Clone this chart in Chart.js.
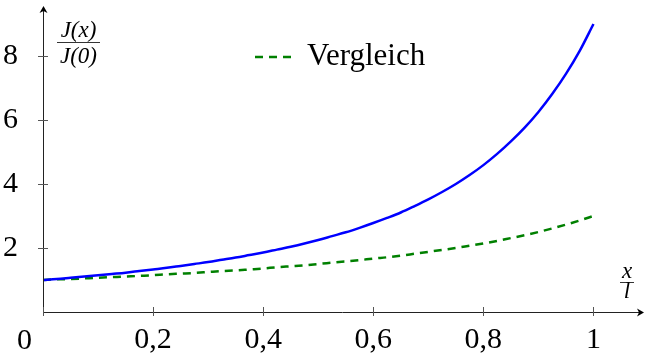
<!DOCTYPE html>
<html><head><meta charset="utf-8">
<script src="https://cdn.jsdelivr.net/npm/chart.js@4"></script>
<style>html,body{margin:0;padding:0;background:#fff}#wrap{width:645px;height:356px;position:relative}</style>
</head><body><div id="wrap"><canvas id="c" width="645" height="356"></canvas></div>
<script>
const xValues = [0,0.025,0.05,0.075,0.1,0.125,0.15,0.175,0.2,0.225,0.25,0.275,0.3,0.325,0.35,0.375,0.4,0.425,0.45,0.475,0.5,0.525,0.55,0.575,0.6,0.625,0.65,0.675,0.7,0.725,0.75,0.775,0.8,0.825,0.85,0.875,0.9,0.925,0.95,0.975,1];
const currentRatio = [1.00,1.03,1.07,1.11,1.15,1.19,1.23,1.28,1.33,1.38,1.44,1.50,1.56,1.63,1.70,1.78,1.86,1.95,2.04,2.14,2.25,2.37,2.49,2.63,2.78,2.94,3.11,3.31,3.52,3.75,4.00,4.28,4.59,4.94,5.33,5.76,6.25,6.81,7.44,8.16,9.00];
const comparison = [1.00,1.02,1.03,1.05,1.07,1.09,1.11,1.13,1.15,1.18,1.20,1.22,1.25,1.28,1.30,1.33,1.36,1.40,1.43,1.46,1.50,1.54,1.58,1.62,1.67,1.71,1.76,1.82,1.88,1.94,2.00,2.07,2.14,2.22,2.31,2.40,2.50,2.61,2.73,2.86,3.00];
const xTicks = [0,0.2,0.4,0.6,0.8,1];
const yTicks = [2,4,6,8];
const legendLabel = 'Vergleich';

const SERIF = '"Liberation Serif","DejaVu Serif",serif';

const overlay = {
  id:'overlay',
  afterDraw(chart){
    const ctx = chart.ctx, xs = chart.scales.x, ys = chart.scales.y;
    const x0 = xs.getPixelForValue(0), y0 = ys.getPixelForValue(0);
    const ca = chart.chartArea;
    ctx.save();
    ctx.strokeStyle = '#222'; ctx.fillStyle='#000'; ctx.lineWidth = 1;
    ctx.beginPath();
    ctx.moveTo(ca.left, y0+0.5); ctx.lineTo(ca.right-1, y0+0.5);
    ctx.moveTo(x0+0.5, y0+0.5); ctx.lineTo(x0+0.5, ca.top+1);
    ctx.stroke();
    ctx.beginPath();
    ctx.moveTo(ca.right+1, y0+0.5); ctx.lineTo(ca.right-6, y0-3.5); ctx.lineTo(ca.right-4, y0+0.5); ctx.lineTo(ca.right-6, y0+4.5); ctx.closePath(); ctx.fill();
    ctx.beginPath();
    ctx.moveTo(x0+0.5, ca.top-2); ctx.lineTo(x0-3.5, ca.top+5); ctx.lineTo(x0+0.5, ca.top+3); ctx.lineTo(x0+4.5, ca.top+5); ctx.closePath(); ctx.fill();
    ctx.strokeStyle = '#555';
    ctx.beginPath();
    xTicks.forEach(v=>{ const p=Math.round(xs.getPixelForValue(v))+0.5; ctx.moveTo(p,y0-5); ctx.lineTo(p,y0+4); });
    yTicks.forEach(v=>{ const p=Math.round(ys.getPixelForValue(v))+0.5; ctx.moveTo(x0-5,p); ctx.lineTo(x0+5,p); });
    ctx.stroke();
    ctx.fillStyle='#000';
    ctx.font = '30px '+SERIF; ctx.textAlign='center'; ctx.textBaseline='alphabetic';
    ctx.fillText('0', 24.5, 349);
    ctx.font = 'italic 23px '+SERIF;
    ctx.fillText('J(x)', 78.5, 37);
    ctx.fillText('J(0)', 78.5, 63);
    ctx.lineWidth=0.8; ctx.strokeStyle='#000';
    ctx.beginPath(); ctx.moveTo(57,42.5); ctx.lineTo(100,42.5); ctx.stroke();
    ctx.fillText('x', 627, 278);
    ctx.fillText('l', 627, 298);
    ctx.beginPath(); ctx.moveTo(620,282.5); ctx.lineTo(634,282.5); ctx.stroke();
    ctx.strokeStyle='#008000'; ctx.lineWidth=2.5; ctx.setLineDash([8,6]);
    ctx.beginPath(); ctx.moveTo(255,57); ctx.lineTo(296,57); ctx.stroke();
    ctx.setLineDash([]);
    ctx.font = '31px '+SERIF; ctx.textAlign='left'; ctx.textBaseline='middle';
    ctx.fillText(legendLabel, 307, 57);
    ctx.restore();
  }
};

new Chart(document.getElementById('c'), {
  type:'line',
  data:{
    labels:xValues,
    datasets:[
      {label:'J(x)/J(0)', data:xValues.map((x,i)=>({x, y:currentRatio[i]})), borderColor:'#0000ff', borderWidth:2.5, pointRadius:0, cubicInterpolationMode:'monotone', fill:false},
      {label:legendLabel, data:xValues.map((x,i)=>({x, y:comparison[i]})), borderColor:'#008000', borderWidth:2.5, borderDash:[8,6], pointRadius:0, cubicInterpolationMode:'monotone', fill:false}
    ]
  },
  options:{
    responsive:false, animation:false, clip:false,
    layout:{padding:{top:8,right:2,left:0,bottom:0}},
    plugins:{legend:{display:false}, tooltip:{enabled:false}},
    scales:{
      x:{type:'linear', min:0, max:1.09,
        afterBuildTicks:s=>{s.ticks = xTicks.map(v=>({value:v}));},
        afterFit:s=>{s.height=44; s.paddingLeft=0; s.paddingRight=0;},
        grid:{display:false}, border:{display:false},
        ticks:{color:'#000', font:{family:SERIF, size:30}, padding:2, maxRotation:0, autoSkip:false,
          callback:v=> v===0 ? '' : String(v).replace('.',',')}},
      y:{type:'linear', min:0, max:9.5,
        afterBuildTicks:s=>{s.ticks = yTicks.map(v=>({value:v}));},
        afterFit:s=>{s.width=43; s.paddingTop=0; s.paddingBottom=0;},
        grid:{display:false}, border:{display:false},
        ticks:{color:'#000', font:{family:SERIF, size:30}, padding:17, autoSkip:false}}
    }
  },
  plugins:[overlay]
});
</script></body></html>
